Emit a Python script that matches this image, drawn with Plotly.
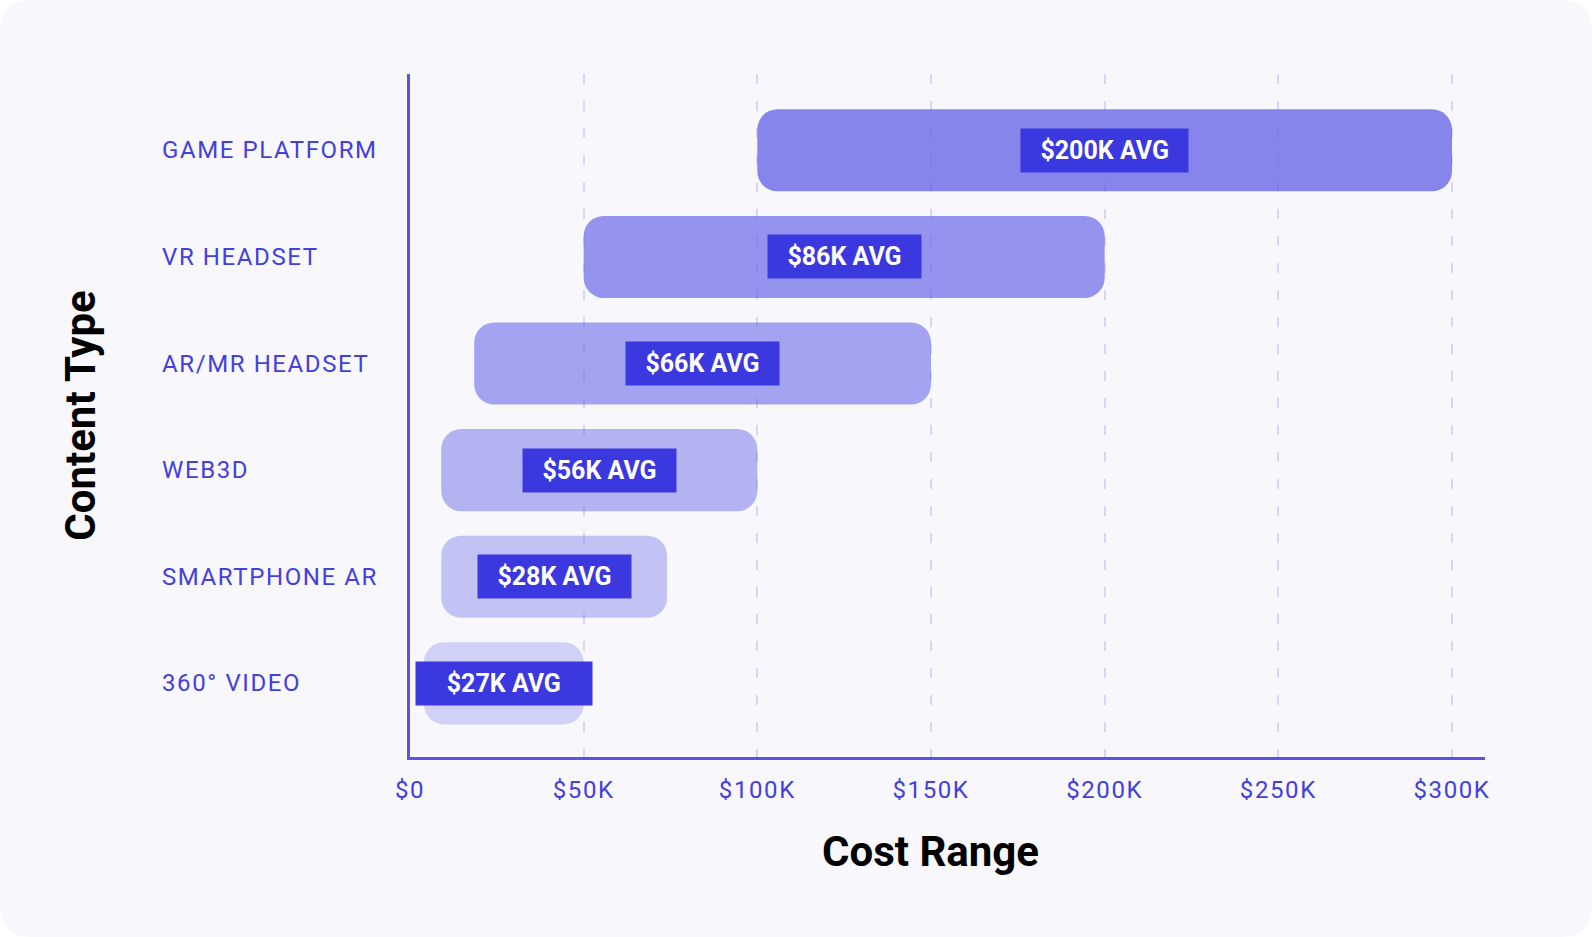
import plotly.graph_objects as go

# ---------------- data ----------------
categories = ["GAME PLATFORM", "VR HEADSET", "AR/MR HEADSET", "WEB3D", "SMARTPHONE AR", "360° VIDEO"]
cost_low = [100000, 50000, 18500, 9000, 9000, 4000]
cost_high = [300000, 200000, 150000, 100000, 74000, 50000]
avg_labels = ["$200K AVG", "$86K AVG", "$66K AVG", "$56K AVG", "$28K AVG", "$27K AVG"]
bar_alpha = [0.75, 0.65, 0.55, 0.45, 0.35, 0.25]
tick_vals = [0, 50000, 100000, 150000, 200000, 250000, 300000]
tick_text = ["$0", "$50K", "$100K", "$150K", "$200K", "$250K", "$300K"]
x_title = "Cost Range"
y_title = "Content Type"

# ---------------- layout constants ----------------
W, H = 1592, 937
ML, MR, MT, MB = 410, 107, 74, 180
PW, PH = W - ML - MR, H - MT - MB
FONT = "Roboto"
BLUE = "#4340de"
LABEL_BG = "#3b38e0"
CARD = "#f7f7fc"
LABEL_PADS = ["\u00a0\u00a0"] * 5 + ["\u00a0\u00a0\u00a0\u2009"]


def spaced(t, ls=1.6):
    return f'<span style="letter-spacing:{ls}px">{t}</span>'


mids = [(lo + hi) / 2 for lo, hi in zip(cost_low, cost_high)]
colors = [f"rgba(95,95,231,{a})" for a in bar_alpha]

fig = go.Figure()
fig.add_trace(go.Bar(
    y=categories, x=[hi - lo for lo, hi in zip(cost_low, cost_high)], base=cost_low,
    orientation="h", width=0.77,
    marker=dict(color=colors, line=dict(width=0), cornerradius=20),
    hoverinfo="skip", showlegend=False,
))

annotations = []
for cat, m, lab, pad in zip(categories, mids, avg_labels, LABEL_PADS):
    annotations.append(dict(
        x=m, y=cat, xref="x", yref="y", text=f"{pad}{lab}{pad}", showarrow=False,
        font=dict(family=FONT, size=25, color="white", weight=700),
        bgcolor=LABEL_BG, borderpad=7, xanchor="center", yanchor="middle",
    ))
for cat in categories:
    annotations.append(dict(
        x=(160 - ML) / PW, y=cat, xref="paper", yref="y", text=spaced(cat),
        showarrow=False, xanchor="left", yanchor="middle",
        font=dict(family=FONT, size=24, color=BLUE),
    ))
# x-axis title
annotations.append(dict(
    x=(930 - ML) / PW, y=-(851 - (H - MB)) / PH, xref="paper", yref="paper",
    text=x_title, showarrow=False, xanchor="center", yanchor="middle",
    font=dict(family=FONT, size=42, color="black", weight=700),
))


def px(X):
    return (X - ML) / PW


def py(Y):
    return (H - MB - Y) / PH


R = 32
pts = [
    ("M", [(R, 0)]), ("L", [(W - R, 0)]), ("Q", [(W, 0), (W, R)]),
    ("L", [(W, H - R)]), ("Q", [(W, H), (W - R, H)]),
    ("L", [(R, H)]), ("Q", [(0, H), (0, H - R)]),
    ("L", [(0, R)]), ("Q", [(0, 0), (R, 0)]),
]
path = " ".join(c + " " + " ".join(f"{px(a):.5f},{py(b):.5f}" for a, b in p) for c, p in pts) + " Z"

fig.update_layout(
    width=W, height=H,
    margin=dict(l=ML, r=MR, t=MT, b=MB, autoexpand=False),
    paper_bgcolor="white", plot_bgcolor="rgba(0,0,0,0)",
    barmode="overlay", showlegend=False,
    font=dict(family=FONT),
    annotations=annotations,
    shapes=[dict(type="path", path=path, xref="paper", yref="paper",
                 fillcolor=CARD, line=dict(width=0), layer="below")],
    xaxis=dict(
        range=[0, 309500], tickvals=tick_vals, ticktext=[spaced(t) for t in tick_text],
        showgrid=True, gridcolor="#d6d6f5", gridwidth=1.5, griddash="10px,17px",
        zeroline=False, showline=True, linecolor="#5856de", linewidth=3,
        ticks="", ticklabelstandoff=9,
        tickfont=dict(family=FONT, size=24, color=BLUE),
        automargin=False, fixedrange=True,
    ),
    yaxis=dict(
        categoryorder="array", categoryarray=categories,
        range=[5.691, -0.716],
        showgrid=False, zeroline=False, showline=True, linecolor="#5856de", linewidth=3,
        showticklabels=False, ticks="",
        title=dict(text=y_title, standoff=299,
                   font=dict(family=FONT, size=42, color="black", weight=700)),
        automargin=False, fixedrange=True,
    ),
)

fig.write_html(
    "out.html",
    config={"displayModeBar": False},
    post_script="document.body.style.margin='0';document.body.style.padding='0';",
)
